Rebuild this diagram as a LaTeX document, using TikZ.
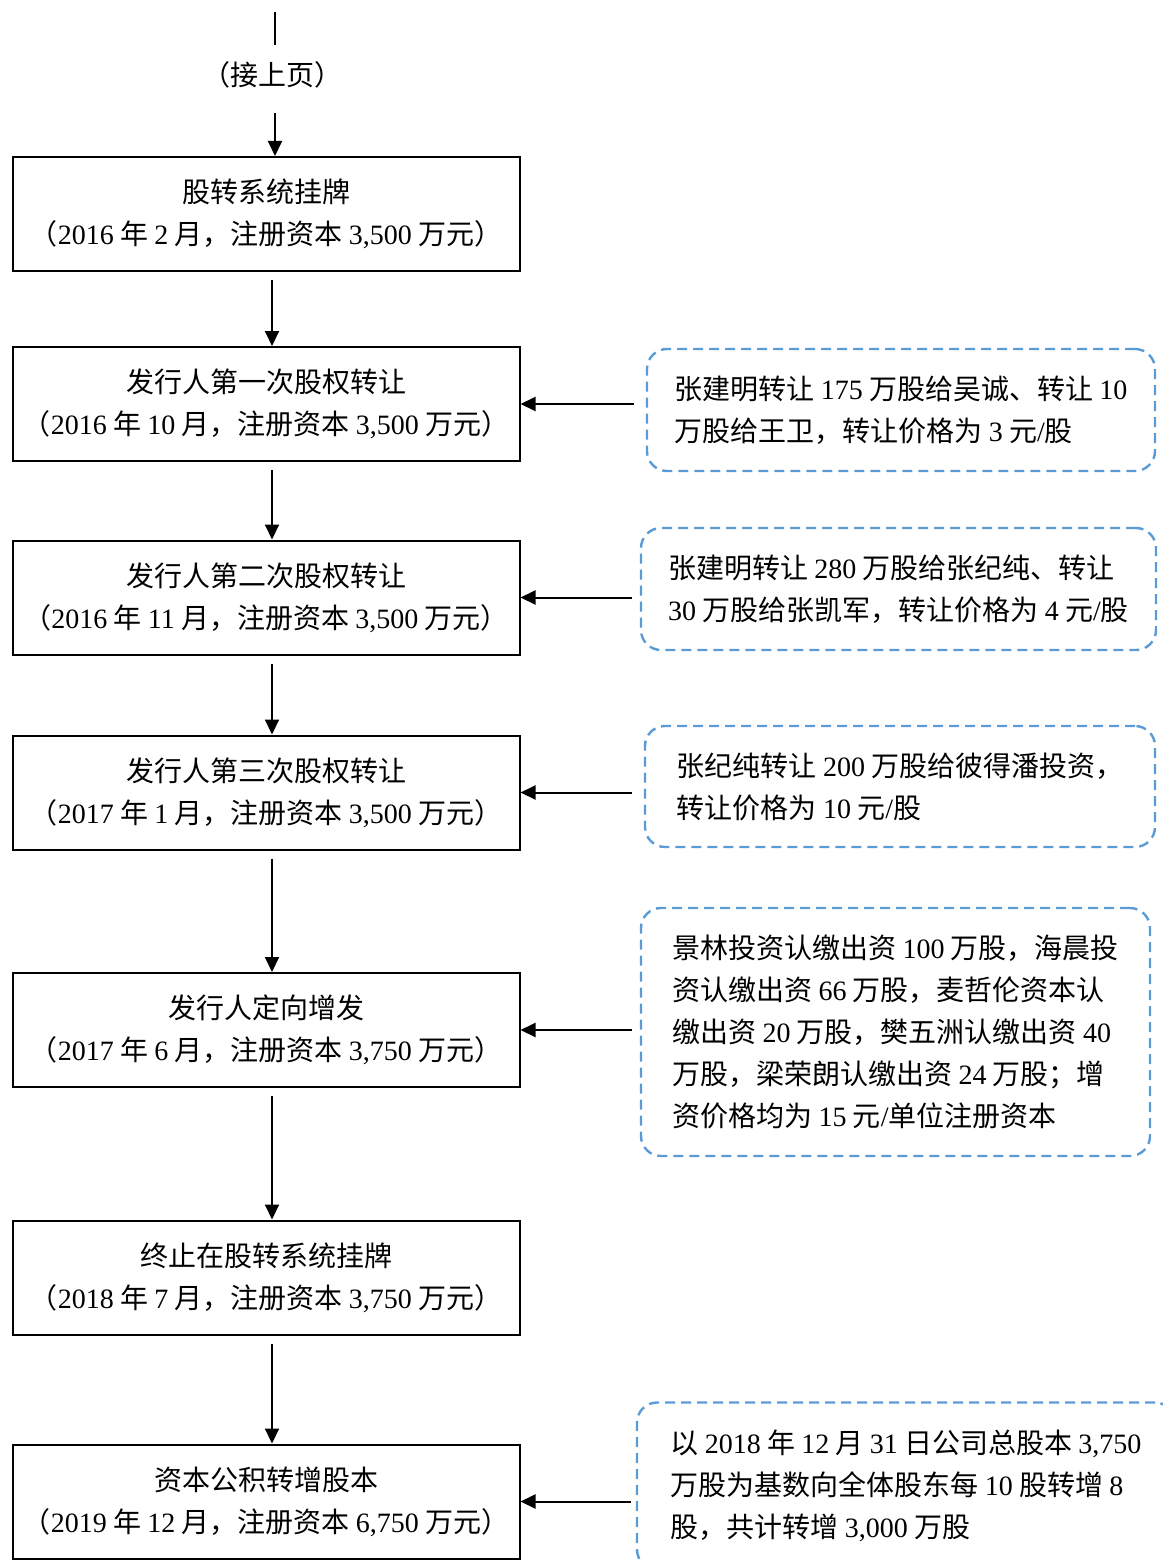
\documentclass[tikz,border=0pt]{standalone}
\usepackage{fontspec}
\setmainfont{Noto Sans CJK SC}
\newfontfamily\latin{Liberation Serif}
\newcommand{\lat}[1]{{\latin #1}}
\usetikzlibrary{arrows.meta,positioning}
\definecolor{noteblue}{RGB}{91,155,213}

\begin{document}
\begin{tikzpicture}[x=1pt, y=-1pt, on grid, >={Triangle[length=15pt,width=14pt]},
        every node/.style={font=\fontsize{28}{42}\selectfont},
        box/.style={draw, line width=2pt, minimum width=507pt, minimum height=114pt, align=center, inner sep=0pt},
        note/.style={draw=noteblue, line width=2.4pt, dash pattern=on 10pt off 6pt, rounded corners=20pt, align=left, inner sep=0pt},
        flow/.style={->, line width=2pt, shorten <=8pt}]
    \useasboundingbox (0,0) rectangle (1162,1560);

    \coordinate (t0) at (275,12);
    \coordinate (t1) at (275,45);
    \node (cont) at (272,75) {（接上页）};
    \coordinate (a0) at (275,113);

    \node[box] (b1) at (266,214) {股转系统挂牌\\（\lat{2016} 年 \lat{2} 月，注册资本 \lat{3,500} 万元）};
    \node[box, below=190pt of b1] (b2) {发行人第一次股权转让\\（\lat{2016} 年 \lat{10} 月，注册资本 \lat{3,500} 万元）};
    \node[box, below=193.5pt of b2] (b3) {发行人第二次股权转让\\（\lat{2016} 年 \lat{11} 月，注册资本 \lat{3,500} 万元）};
    \node[box, below=195pt of b3] (b4) {发行人第三次股权转让\\（\lat{2017} 年 \lat{1} 月，注册资本 \lat{3,500} 万元）};
    \node[box, below=237.5pt of b4] (b5) {发行人定向增发\\（\lat{2017} 年 \lat{6} 月，注册资本 \lat{3,750} 万元）};
    \node[box, below=247.5pt of b5] (b6) {终止在股转系统挂牌\\（\lat{2018} 年 \lat{7} 月，注册资本 \lat{3,750} 万元）};
    \node[box, below=224pt of b6] (b7) {资本公积转增股本\\（\lat{2019} 年 \lat{12} 月，注册资本 \lat{6,750} 万元）};

    % notes on the right
    \node[note, minimum width=508pt, minimum height=122pt, right=635pt of b2, yshift=-6pt] (n1)
        {张建明转让 \lat{175} 万股给吴诚、转让 \lat{10}\\万股给王卫，转让价格为 \lat{3} 元\lat{/}股};
    \node[note, minimum width=515pt, minimum height=122pt, right=632.5pt of b3, yshift=8.5pt] (n2)
        {张建明转让 \lat{280} 万股给张纪纯、转让\\\lat{30} 万股给张凯军，转让价格为 \lat{4} 元\lat{/}股};
    \node[note, minimum width=510pt, minimum height=121pt, right=634pt of b4, yshift=6pt] (n3)
        {张纪纯转让 \lat{200} 万股给彼得潘投资，\\转让价格为 \lat{10} 元\lat{/}股};
    \node[note, minimum width=509pt, minimum height=248pt, right=629.5pt of b5, yshift=-2pt] (n4)
        {景林投资认缴出资 \lat{100} 万股，海晨投\\资认缴出资 \lat{66} 万股，麦哲伦资本认\\缴出资 \lat{20} 万股，樊五洲认缴出资 \lat{40}\\万股，梁荣朗认缴出资 \lat{24} 万股；增\\资价格均为 \lat{15} 元\lat{/}单位注册资本};
    \node[note, minimum width=538pt, minimum height=167pt, right=640pt of b7, yshift=15.5pt] (n5)
        {以 \lat{2018} 年 \lat{12} 月 \lat{31} 日公司总股本 \lat{3,750}\\万股为基数向全体股东每 \lat{10} 股转增 \lat{8}\\股，共计转增 \lat{3,000} 万股};

    \draw[line width=2pt] (t0) -- (t1);
    \draw[flow, shorten <=0pt] (a0) -- (a0 |- b1.north);
    \draw[flow] ([xshift=6pt]b1.south) -- ([xshift=6pt]b2.north);
    \draw[flow] ([xshift=6pt]b2.south) -- ([xshift=6pt]b3.north);
    \draw[flow] ([xshift=6pt]b3.south) -- ([xshift=6pt]b4.north);
    \draw[flow] ([xshift=6pt]b4.south) -- ([xshift=6pt]b5.north);
    \draw[flow] ([xshift=6pt]b5.south) -- ([xshift=6pt]b6.north);
    \draw[flow] ([xshift=6pt]b6.south) -- ([xshift=6pt]b7.north);

    \draw[flow, shorten <=12pt] (n1.west |- b2.east) -- (b2.east);
    \draw[flow, shorten <=8pt] (n2.west |- b3.east) -- (b3.east);
    \draw[flow, shorten <=12pt] (n3.west |- b4.east) -- (b4.east);
    \draw[flow, shorten <=8pt] (n4.west |- b5.east) -- (b5.east);
    \draw[flow, shorten <=5pt] (n5.west |- b7.east) -- (b7.east);
\end{tikzpicture}
\end{document}
